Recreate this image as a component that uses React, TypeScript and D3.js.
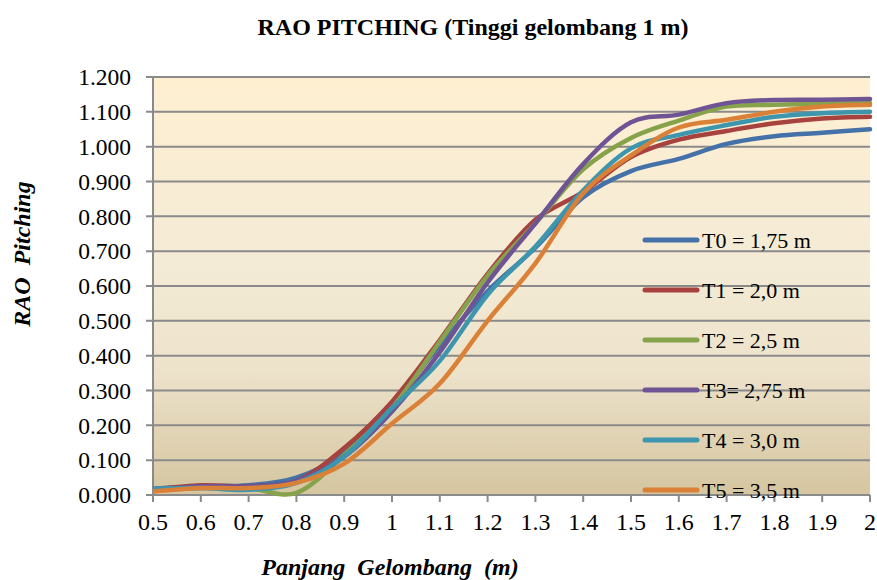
import React from "react";
import * as d3 from "d3";

const xValues = [0.5, 0.6, 0.7, 0.8, 0.9, 1.0, 1.1, 1.2, 1.3, 1.4, 1.5, 1.6, 1.7, 1.8, 1.9, 2.0];
const T0 = [0.018, 0.025, 0.028, 0.05, 0.12, 0.26, 0.43, 0.585, 0.71, 0.855, 0.93, 0.965, 1.008, 1.03, 1.04, 1.05];
const T1 = [0.015, 0.028, 0.025, 0.04, 0.135, 0.268, 0.445, 0.635, 0.79, 0.87, 0.97, 1.02, 1.045, 1.067, 1.081, 1.086];
const T2 = [0.015, 0.02, 0.02, 0.006, 0.115, 0.25, 0.44, 0.63, 0.78, 0.935, 1.025, 1.075, 1.115, 1.12, 1.123, 1.125];
const T3 = [0.015, 0.025, 0.025, 0.04, 0.11, 0.24, 0.41, 0.61, 0.78, 0.95, 1.07, 1.092, 1.125, 1.134, 1.135, 1.137];
const T4 = [0.018, 0.02, 0.015, 0.035, 0.11, 0.25, 0.385, 0.575, 0.713, 0.875, 0.995, 1.034, 1.062, 1.086, 1.096, 1.10];
const T5 = [0.01, 0.02, 0.02, 0.035, 0.09, 0.205, 0.32, 0.5, 0.665, 0.866, 0.975, 1.055, 1.077, 1.10, 1.115, 1.12];

const seriesNames = ["T0 = 1,75 m", "T1 = 2,0 m", "T2 = 2,5 m", "T3= 2,75 m", "T4 = 3,0 m", "T5 = 3,5 m"];
const seriesValues = [T0, T1, T2, T3, T4, T5];
const colors = ["#4472A8", "#A8423F", "#86A24A", "#6E5494", "#3D96AE", "#DA8137"];
const xTicks = [0.5, 0.6, 0.7, 0.8, 0.9, 1, 1.1, 1.2, 1.3, 1.4, 1.5, 1.6, 1.7, 1.8, 1.9, 2];
const yTicks = [0, 0.1, 0.2, 0.3, 0.4, 0.5, 0.6, 0.7, 0.8, 0.9, 1.0, 1.1, 1.2];

const W = 877, H = 580;
const L = 153, R = 870, T = 77, B = 495;
const SERIF = '"Liberation Serif", "DejaVu Serif", serif';

export default function App() {
  const x = d3.scaleLinear().domain([0.5, 2]).range([L, R]);
  const y = d3.scaleLinear().domain([0, 1.2]).range([B, T]);
  const line = d3
    .line<number>()
    .x((_, i) => x(xValues[i]))
    .y((d) => y(d))
    .curve(d3.curveCardinal.tension(0));
  const legendY = [240, 290, 340, 390, 440, 490];
  const fs = 24;
  return (
    <svg width={W} height={H} style={{ position: "absolute", left: 0, top: 0, fontFamily: SERIF }}>
      <defs>
        <linearGradient id="bg" x1="0" y1="0" x2="0" y2="1">
          <stop offset="0" stopColor="#FEEFD1" />
          <stop offset="0.45" stopColor="#F4EBD6" />
          <stop offset="0.7" stopColor="#EDE3CB" />
          <stop offset="1" stopColor="#D5C5A0" />
        </linearGradient>
        <clipPath id="clip">
          <rect x={L} y={T - 5} width={R - L + 5} height={B - T + 10} />
        </clipPath>
      </defs>
      <rect x={0} y={0} width={W} height={H} fill="#ffffff" />
      <rect x={L} y={T} width={R - L} height={B - T} fill="url(#bg)" />
      {yTicks.map((t) => (
        <g key={t}>
          <line x1={L - 7} x2={R} y1={y(t)} y2={y(t)} stroke="#8A8A8A" strokeWidth={2} />
          <text x={131} y={y(t)} dy="0.35em" textAnchor="end" fontSize={23.5} fill="#000" style={{ fontFamily: SERIF }}>
            {t.toFixed(3)}
          </text>
        </g>
      ))}
      <line x1={L} x2={L} y1={T} y2={B} stroke="#8A8A8A" strokeWidth={2} />
      {xTicks.map((t) => (
        <g key={t}>
          <line x1={x(t)} x2={x(t)} y1={B} y2={B + 7} stroke="#8A8A8A" strokeWidth={2} />
          <text x={x(t)} y={522} dy="0.35em" textAnchor="middle" fontSize={fs} fill="#000" style={{ fontFamily: SERIF }}>
            {String(t)}
          </text>
        </g>
      ))}
      <g clipPath="url(#clip)">
        {seriesValues.map((s, i) => (
          <path key={i} d={line(s) || ""} fill="none" stroke={colors[i]} strokeWidth={4.5} strokeLinejoin="round" strokeLinecap="round" />
        ))}
      </g>
      {seriesNames.map((n, i) => (
        <g key={n}>
          <line x1={645} x2={697} y1={legendY[i]} y2={legendY[i]} stroke={colors[i]} strokeWidth={5} strokeLinecap="round" />
          <text x={702} y={legendY[i]} dy="0.35em" fontSize={22} fill="#000" style={{ fontFamily: SERIF }}>
            {n}
          </text>
        </g>
      ))}
      <text x={473} y={27} dy="0.35em" textAnchor="middle" fontSize={fs} fontWeight="bold" fill="#000" style={{ fontFamily: SERIF }}>
        RAO PITCHING (Tinggi gelombang 1 m)
      </text>
      <text
        transform={`translate(22,254) rotate(-90)`}
        textAnchor="middle"
        dy="0.35em"
        fontSize={fs}
        fontWeight="bold"
        fontStyle="italic"
        fill="#000"
        style={{ whiteSpace: "pre", fontFamily: SERIF }}
      >
        {"RAO  Pitching"}
      </text>
      <text x={390} y={567} dy="0.35em" textAnchor="middle" fontSize={fs} fontWeight="bold" fontStyle="italic" fill="#000" style={{ whiteSpace: "pre", fontFamily: SERIF }}>
        {"Panjang  Gelombang  (m)"}
      </text>
    </svg>
  );
}
